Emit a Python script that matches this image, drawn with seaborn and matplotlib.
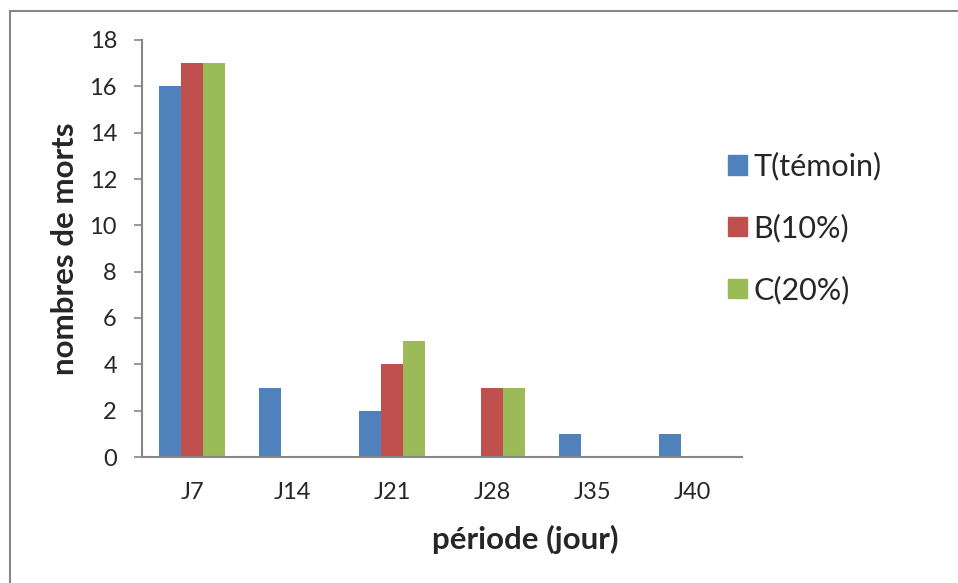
import matplotlib
matplotlib.use("Agg")
import matplotlib.pyplot as plt
import seaborn as sns
import pandas as pd
from matplotlib.patches import Rectangle

# Mortality counts per observation day and treatment
periods = ["J7", "J14", "J21", "J28", "J35", "J40"]
groups = ["T(témoin)", "B(10%)", "C(20%)"]
deaths_T = [16, 3, 2, 0, 1, 1]
deaths_B = [17, 0, 4, 3, 0, 0]
deaths_C = [17, 0, 5, 3, 0, 0]
y_ticks = [0, 2, 4, 6, 8, 10, 12, 14, 16, 18]

palette = ["#4F81BD", "#C0504D", "#9BBB59"]

df = pd.DataFrame({
    "période": periods * 3,
    "groupe": [groups[0]] * 6 + [groups[1]] * 6 + [groups[2]] * 6,
    "morts": deaths_T + deaths_B + deaths_C,
})

sns.set_style("white")
plt.rcParams["font.family"] = ["Lato", "DejaVu Sans"]

fig = plt.figure(figsize=(9.58, 5.83), dpi=100)
ax = fig.add_axes([142 / 958, 1 - 457 / 583, 600 / 958, 417 / 583])

sns.barplot(data=df, x="période", y="morts", hue="groupe", order=periods,
            hue_order=groups, palette=palette, width=0.667, gap=0,
            saturation=1, edgecolor="none", ax=ax, legend=False)

ax.set_ylim(0, 18)
ax.set_xlim(-0.5, 5.5)
ax.set_yticks(y_ticks)

axis_color = "#868686"
for side in ["top", "right"]:
    ax.spines[side].set_visible(False)
for side in ["left", "bottom"]:
    ax.spines[side].set_color(axis_color)
    ax.spines[side].set_linewidth(1.5)

ax.tick_params(axis="y", which="major", left=True, length=6, width=1.2,
               color=axis_color, labelsize=17, pad=12)
ax.tick_params(axis="x", which="major", bottom=False, length=0,
               labelsize=17, pad=18)

ax.set_ylabel("nombres de morts", fontsize=22.5, fontweight="bold")
ax.set_xlabel("période (jour)", fontsize=22.5, fontweight="bold")
ax.yaxis.set_label_coords(-0.105, 0.5)
ax.xaxis.set_label_coords(0.638, -0.163)

handles = [Rectangle((0, 0), 1, 1, color=c) for c in palette]
fig.legend(handles, groups, loc="upper left", bbox_to_anchor=(716 / 958, 1 - 140 / 583),
           frameon=False, fontsize=22, handlelength=0.6, handleheight=0.6,
           handletextpad=0.23, labelspacing=1.08, borderaxespad=0)

# Chart area frame
fig.add_artist(Rectangle((10 / 958, -0.1), 1.2, 1 - 11 / 583 + 0.1,
                         transform=fig.transFigure, fill=False,
                         edgecolor=axis_color, linewidth=1.5))

fig.savefig("out.png", dpi=100)
